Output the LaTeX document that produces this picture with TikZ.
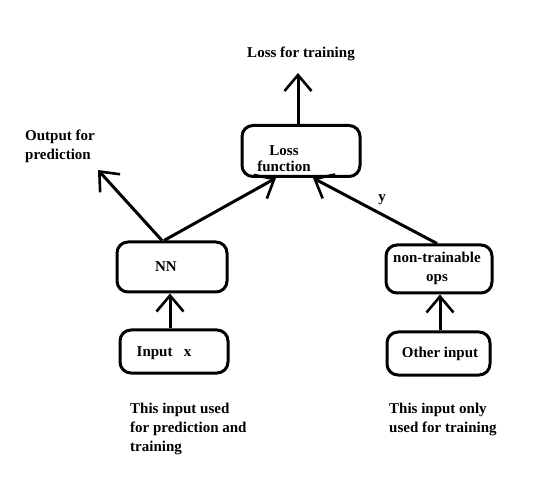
\documentclass[tikz,border=0pt]{standalone}
\usepackage{fontspec}
\setmainfont{Liberation Serif}
\usetikzlibrary{arrows.meta,calc}
\begin{document}
\begin{tikzpicture}[x=1pt,y=-1pt,
  box/.style={draw,line width=3pt,rounded corners=11pt,inner sep=0pt},
  txt/.style={font=\fontsize{15}{19}\selectfont\bfseries,inner sep=0pt,align=left},
  conn/.style={line width=3pt,-{Straight Barb[length=16pt,width=27pt,line width=2.6pt]}}]
\useasboundingbox[fill=white] (0,0) rectangle (539,484);
% boxes
\node[box,minimum width=118pt,minimum height=51pt] (lf) at (301,151) {};
\node[box,minimum width=110pt,minimum height=50pt] (nn) at (172,267) {};
\node[box,minimum width=106pt,minimum height=48pt] (ops) at (439,269) {};
\node[box,minimum width=108pt,minimum height=43pt] (inp) at (174,351.5) {};
\node[box,minimum width=103pt,minimum height=43pt] (oth) at (438.5,353.5) {};
% box texts
\node[txt,align=center,font=\fontsize{15}{16}\selectfont\bfseries] (lft) at (284,159) {Loss\\function};
\node[txt] (nnt) at (166,267) {NN};
\node[txt,align=center] (opst) at (437,268) {non-trainable\\ops};
\node[txt] (inpt) at (164,353) {Input\ \ \ x};
\node[txt] (otht) at (440,354) {Other input};
% free texts
\node[txt] (losstr) at (301,54) {Loss for training};
\node[txt,anchor=west] (outp) at (25,146) {Output for\\prediction};
\node[txt,anchor=north west] (note1) at (130,403) {This input used\\for prediction and\\training};
\node[txt,anchor=north west] (note2) at (389,403) {This input only\\used for training};
\node[txt] (ylab) at (382,200) {y};
% coordinates
\coordinate (losstip) at (298,73);
\coordinate (outtip) at (98,170);
% connectors
\draw[conn] ([xshift=-3pt]lf.north) -- (losstip);
\draw[conn] ([xshift=-10pt]nn.north) -- (outtip);
\draw[conn] ([xshift=-8pt]nn.north) -- ([xshift=-25pt]lf.south);
\draw[conn] ([xshift=-2pt]ops.north) -- ([xshift=12pt]lf.south);
\draw[conn] ([xshift=-4pt]inp.north) -- ([xshift=-4pt]inp.north |- nn.south);
\draw[conn] ([xshift=1.5pt]oth.north) -- ([xshift=1.5pt]oth.north |- ops.south);
\end{tikzpicture}
\end{document}
